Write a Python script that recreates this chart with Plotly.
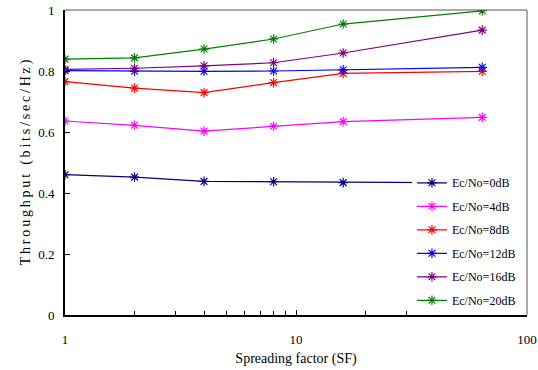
import plotly.graph_objects as go

sf = [1, 2, 4, 8, 16, 64]
names = ["Ec/No=0dB", "Ec/No=4dB", "Ec/No=8dB", "Ec/No=12dB", "Ec/No=16dB", "Ec/No=20dB"]
colors = ["#000080", "#FF00FF", "#FF0000", "#0000FF", "#800080", "#008000"]
thr_0 = [0.460, 0.452, 0.438, 0.437, 0.434, 0.433]
thr_4 = [0.636, 0.622, 0.603, 0.619, 0.634, 0.648]
thr_8 = [0.765, 0.744, 0.729, 0.762, 0.792, 0.799]
thr_12 = [0.801, 0.799, 0.799, 0.800, 0.804, 0.812]
thr_16 = [0.805, 0.809, 0.817, 0.827, 0.859, 0.934]
thr_20 = [0.839, 0.843, 0.872, 0.905, 0.954, 0.997]
series = [thr_0, thr_4, thr_8, thr_12, thr_16, thr_20]

x_ticks = [1, 10, 100]
x_tick_text = ["1", "10", "100"]
y_ticks = [0, 0.2, 0.4, 0.6, 0.8, 1]
y_tick_text = ["0", "0.2", "0.4", "0.6", "0.8", "1"]

FONT = "Times New Roman, Liberation Serif, DejaVu Serif, serif"

fig = go.Figure()
for i, (n, c, ys) in enumerate(zip(names, colors, series)):
    fig.add_trace(go.Scatter(
        x=sf, y=ys, name=n, mode="lines+markers",
        line=dict(color=c, width=1.2),
        marker=dict(symbol="asterisk-open", size=8, color=c, line=dict(color=c, width=1.2)),
        legendgroup=f"g{i}",
    ))

minor_vals = [v * m for m in (1, 10) for v in range(2, 10)]

fig.update_layout(
    width=538, height=370,
    margin=dict(l=65, r=11, t=10, b=55, autoexpand=False),
    paper_bgcolor="white", plot_bgcolor="white",
    font=dict(family=FONT, size=12, color="black"),
    showlegend=True,
    legend=dict(
        x=0.751, y=0.481, xanchor="left", yanchor="top",
        bgcolor="white", borderwidth=0,
        font=dict(family=FONT, size=12, color="black"),
        traceorder="grouped", tracegroupgap=4.5,
        itemwidth=30,
    ),
    xaxis=dict(
        type="log", range=[0, 2], automargin=False,
        tickmode="array", tickvals=x_ticks, ticktext=x_tick_text,
        ticks="inside", ticklen=5, tickcolor="black",
        ticklabelstandoff=11, ticklabeloverflow="allow",
        minor=dict(tickmode="array", tickvals=minor_vals, ticks="inside", ticklen=4, tickcolor="black"),
        showgrid=False, zeroline=False,
        showline=True, linecolor="black", linewidth=2,
        tickfont=dict(family=FONT, size=13),
        title=dict(text="Spreading factor (SF)", font=dict(family=FONT, size=14), standoff=8),
    ),
    yaxis=dict(
        range=[0, 1], automargin=False,
        tickmode="array", tickvals=y_ticks, ticktext=y_tick_text,
        ticks="inside", ticklen=5, tickcolor="black",
        ticklabelstandoff=6, ticklabeloverflow="allow",
        showgrid=False, zeroline=False,
        showline=True, linecolor="black", linewidth=2,
        tickfont=dict(family=FONT, size=13),
        title=dict(text="\u2009".join("Throughput (bits/sec/Hz)"), font=dict(family=FONT, size=14), standoff=4),
    ),
    shapes=[
        dict(type="line", xref="paper", yref="paper", x0=0, x1=1, y0=1, y1=1,
             line=dict(color="#555555", width=1)),
        dict(type="line", xref="paper", yref="paper", x0=1, x1=1, y0=0, y1=1,
             line=dict(color="#555555", width=1)),
    ],
)

fig.write_html("out.html", config={"displayModeBar": False},
               post_script="document.body.style.margin='0';")
